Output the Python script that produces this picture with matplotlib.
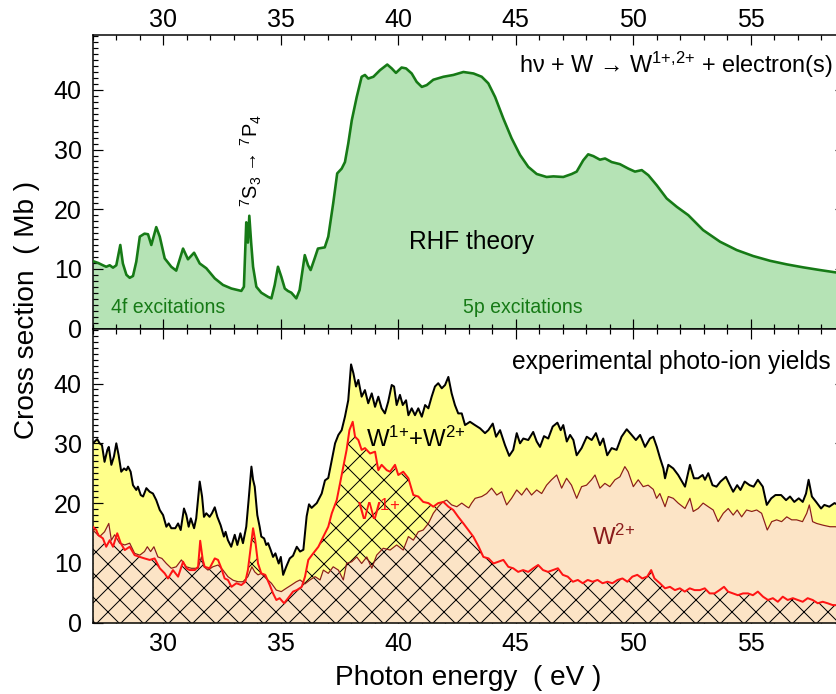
import matplotlib
matplotlib.use("Agg")
import matplotlib.pyplot as plt
from matplotlib.ticker import MultipleLocator
import numpy as np

plt.rcParams['font.family'] = ['Liberation Sans', 'DejaVu Sans']
plt.rcParams['mathtext.fontset'] = 'custom'
plt.rcParams['mathtext.rm'] = 'Liberation Sans'
plt.rcParams['hatch.linewidth'] = 1.0
plt.rcParams['hatch.color'] = 'black'

# --- RHF theory: total photoabsorption cross section (Mb) ---
theory_e = [27.0, 27.22, 27.43, 27.57, 27.72, 27.86, 28.0, 28.17, 28.28, 28.43, 28.57, 28.71,
            28.85, 29.0, 29.2, 29.35, 29.49, 29.7, 29.85, 30.06, 30.34, 30.55, 30.84, 31.05,
            31.31, 31.55, 31.83, 32.19, 32.54, 32.9, 33.32, 33.43, 33.53, 33.6, 33.66, 33.74,
            33.82, 33.96, 34.17, 34.46, 34.6, 34.74, 34.88, 35.02, 35.17, 35.3, 35.45, 35.66,
            35.8, 36.02, 36.16, 36.27, 36.44, 36.58, 36.87, 37.02, 37.23, 37.4, 37.59, 37.73,
            37.87, 38.02, 38.23, 38.44, 38.58, 38.72, 38.94, 39.22, 39.53, 39.72, 39.9, 40.14,
            40.33, 40.57, 40.78, 41.0, 41.21, 41.49, 41.92, 42.34, 42.77, 43.2, 43.55, 43.83,
            44.12, 44.47, 44.82, 45.18, 45.53, 45.89, 46.31, 46.6, 47.02, 47.38, 47.59, 47.87,
            48.08, 48.3, 48.58, 48.8, 49.08, 49.43, 49.79, 50.07, 50.36, 50.64, 51.0, 51.42,
            51.85, 52.34, 52.97, 53.69, 54.4, 55.1, 55.82, 56.53, 57.23, 57.94, 58.62, 59.0]
theory_cs = [11.3, 11.0, 10.6, 10.35, 10.6, 10.2, 10.6, 14.0, 10.9, 9.0, 8.5, 8.8,
             11.2, 15.4, 15.9, 15.8, 14.0, 17.0, 15.4, 11.75, 10.35, 9.7, 13.4, 11.6,
             12.7, 10.9, 10.1, 8.4, 7.3, 6.7, 6.3, 7.0, 17.8, 14.4, 18.9, 14.3,
             10.35, 7.0, 6.0, 5.3, 5.05, 7.3, 10.35, 8.7, 6.7, 6.3, 6.0, 5.05,
             6.45, 12.3, 10.6, 9.8, 11.75, 13.4, 13.6, 15.4, 21.0, 26.0, 26.8, 27.9,
             31.0, 34.9, 38.8, 42.2, 42.5, 41.9, 42.2, 43.3, 44.25, 43.6, 42.85, 43.75,
             43.6, 42.75, 41.35, 40.5, 40.8, 41.7, 42.2, 42.5, 43.0, 42.75, 42.2, 41.1,
             38.8, 35.2, 31.9, 29.1, 27.1, 25.9, 25.4, 25.5, 25.4, 25.9, 26.3, 28.2,
             29.2, 28.9, 28.3, 28.5, 27.9, 27.55, 26.8, 26.3, 26.55, 25.7, 24.0, 21.8,
             20.4, 19.0, 16.5, 14.55, 13.15, 12.15, 11.35, 10.75, 10.25, 9.8, 9.4, 9.2]

# --- Experimental photo-ion yields: W1+ + W2+ (sum) ---
total_e = [27.0, 27.08, 27.19, 27.29, 27.39, 27.5, 27.62, 27.68, 27.79, 27.9, 28.0, 28.1,
           28.21, 28.33, 28.43, 28.5, 28.61, 28.71, 28.85, 28.92, 29.04, 29.14, 29.28, 29.42,
           29.56, 29.7, 29.85, 29.99, 30.13, 30.23, 30.34, 30.51, 30.63, 30.74, 30.88, 30.98,
           31.08, 31.17, 31.31, 31.4, 31.55, 31.65, 31.73, 31.83, 31.97, 32.07, 32.19, 32.3,
           32.44, 32.58, 32.65, 32.75, 32.89, 33.04, 33.15, 33.28, 33.39, 33.53, 33.63, 33.75,
           33.82, 33.89, 34.0, 34.1, 34.17, 34.29, 34.38, 34.46, 34.57, 34.67, 34.77, 34.91,
           35.0, 35.1, 35.23, 35.38, 35.52, 35.68, 35.82, 35.96, 36.1, 36.2, 36.31, 36.53,
           36.74, 36.88, 37.02, 37.17, 37.31, 37.45, 37.59, 37.73, 37.87, 37.99, 38.09, 38.2,
           38.3, 38.44, 38.58, 38.72, 38.87, 39.01, 39.15, 39.29, 39.43, 39.57, 39.72, 39.82,
           39.93, 40.07, 40.19, 40.33, 40.43, 40.57, 40.71, 40.85, 41.0, 41.14, 41.28, 41.42,
           41.56, 41.7, 41.85, 41.99, 42.13, 42.27, 42.41, 42.55, 42.7, 42.84, 43.05, 43.26,
           43.48, 43.69, 43.83, 44.02, 44.16, 44.33, 44.54, 44.72, 44.89, 45.04, 45.18, 45.32,
           45.53, 45.74, 45.89, 46.03, 46.2, 46.38, 46.57, 46.77, 46.91, 47.02, 47.17, 47.31,
           47.45, 47.59, 47.8, 48.02, 48.23, 48.41, 48.58, 48.72, 48.89, 49.08, 49.29, 49.5,
           49.72, 49.93, 50.11, 50.29, 50.5, 50.71, 50.85, 51.0, 51.14, 51.28, 51.35, 51.49,
           51.7, 51.91, 52.2, 52.41, 52.58, 52.76, 52.95, 53.05, 53.19, 53.37, 53.54, 53.71,
           53.94, 54.11, 54.25, 54.42, 54.56, 54.74, 54.95, 55.12, 55.3, 55.51, 55.68, 55.87,
           56.05, 56.29, 56.5, 56.67, 56.85, 57.04, 57.21, 57.35, 57.46, 57.6, 57.78, 57.99,
           58.13, 58.34, 58.56, 59.0]
total_cs = [30.0, 30.3, 30.7, 30.0, 29.7, 26.9, 28.9, 29.4, 26.4, 27.8, 30.0, 28.0,
            25.25, 25.8, 25.5, 26.1, 25.25, 23.0, 22.2, 22.75, 21.35, 21.1, 22.5, 21.9,
            21.6, 20.5, 18.85, 18.0, 16.05, 16.6, 15.8, 15.8, 16.6, 15.5, 19.1, 18.0,
            16.05, 17.45, 15.8, 17.45, 23.6, 21.1, 17.7, 18.3, 17.7, 18.3, 19.3, 17.7,
            16.3, 14.4, 15.2, 13.8, 12.7, 14.7, 13.0, 14.95, 13.3, 16.05, 20.5, 26.1,
            23.9, 22.75, 18.0, 16.05, 14.4, 14.1, 13.0, 13.3, 12.15, 11.0, 11.6, 9.9,
            11.0, 8.0, 9.35, 10.75, 11.2, 12.7, 11.9, 12.2, 17.8, 19.8, 19.2, 20.0,
            21.6, 23.8, 24.2, 27.2, 30.0, 31.4, 32.2, 34.45, 37.2, 43.2, 41.7, 39.5,
            40.6, 37.8, 38.9, 36.7, 38.35, 36.1, 37.8, 35.85, 35.0, 36.95, 39.75, 39.5,
            36.4, 38.1, 36.4, 37.2, 34.7, 35.85, 34.7, 35.85, 34.45, 36.4, 35.85, 37.8,
            39.5, 40.05, 39.2, 39.75, 41.1, 38.35, 36.4, 35.0, 35.0, 33.05, 33.6, 33.05,
            32.5, 31.7, 32.2, 33.3, 31.1, 32.2, 29.7, 27.9, 28.9, 31.7, 30.0, 30.8,
            30.55, 31.9, 30.3, 29.4, 31.2, 30.8, 32.8, 33.45, 32.2, 33.05, 30.3, 31.4,
            30.55, 28.0, 29.2, 31.1, 30.55, 31.7, 29.7, 30.8, 28.0, 29.2, 28.9, 31.1,
            32.35, 31.4, 30.55, 31.4, 29.4, 30.8, 31.1, 29.4, 27.5, 25.8, 24.15, 26.4,
            25.8, 24.7, 22.75, 26.4, 24.15, 24.15, 24.7, 23.9, 25.0, 23.0, 22.75, 23.6,
            24.4, 23.0, 21.9, 23.0, 22.2, 23.6, 23.0, 22.75, 23.9, 22.75, 19.7, 20.8,
            21.35, 21.35, 20.5, 21.1, 20.2, 20.8, 20.2, 21.6, 23.9, 21.1, 20.2, 19.1,
            19.7, 19.4, 20.0, 19.2]

# --- W2+ yield ---
w2_e = [27.0, 27.08, 27.29, 27.5, 27.68, 27.79, 27.93, 28.14, 28.36, 28.57, 28.78, 29.0,
        29.2, 29.32, 29.46, 29.6, 29.77, 29.94, 30.13, 30.34, 30.55, 30.77, 30.98, 31.19,
        31.48, 31.62, 31.73, 31.9, 32.11, 32.33, 32.54, 32.75, 32.97, 33.18, 33.39, 33.6,
        33.77, 33.89, 34.03, 34.17, 34.38, 34.6, 34.81, 35.02, 35.23, 35.45, 35.66, 35.82,
        36.03, 36.24, 36.46, 36.67, 36.81, 37.02, 37.23, 37.45, 37.66, 37.8, 38.02, 38.23,
        38.44, 38.66, 38.87, 39.08, 39.36, 39.65, 39.93, 40.21, 40.43, 40.64, 40.85, 41.06,
        41.28, 41.49, 41.7, 41.89, 42.06, 42.27, 42.49, 42.7, 42.91, 43.0, 43.12, 43.27,
        43.55, 43.76, 43.97, 44.19, 44.4, 44.61, 44.82, 45.04, 45.25, 45.46, 45.67, 45.89,
        46.1, 46.31, 46.52, 46.74, 46.95, 47.16, 47.37, 47.59, 47.8, 48.01, 48.22, 48.37,
        48.58, 48.79, 49.0, 49.22, 49.43, 49.64, 49.78, 50.0, 50.21, 50.42, 50.63, 50.85,
        50.99, 51.13, 51.35, 51.49, 51.7, 51.91, 52.2, 52.41, 52.55, 52.76, 52.97, 53.19,
        53.4, 53.61, 53.83, 54.04, 54.25, 54.42, 54.61, 54.82, 55.04, 55.25, 55.46, 55.7,
        55.89, 56.1, 56.31, 56.53, 56.74, 56.95, 57.2, 57.38, 57.49, 57.63, 57.8, 58.08,
        58.37, 58.58, 59.0]
w2_cs = [15.5, 15.2, 14.4, 15.2, 16.6, 13.8, 14.7, 13.3, 13.0, 13.3, 11.6, 11.3,
         11.9, 12.7, 11.9, 12.7, 11.0, 10.75, 9.9, 9.1, 9.35, 10.5, 9.35, 9.1,
         9.1, 11.0, 9.35, 8.8, 9.35, 9.65, 8.8, 7.7, 7.1, 6.85, 6.85, 7.7,
         9.35, 8.5, 8.0, 8.25, 7.4, 6.6, 5.45, 5.2, 5.75, 6.3, 6.85, 7.15,
         6.5, 7.15, 7.7, 7.15, 8.8, 8.25, 9.35, 8.8, 7.15, 9.9, 10.2, 11.0,
         9.9, 11.0, 9.1, 11.3, 12.45, 12.15, 13.0, 12.15, 14.4, 13.8, 15.2, 15.5,
         16.6, 18.3, 19.4, 20.2, 20.5, 19.7, 19.4, 20.0, 19.4, 19.2, 20.0, 20.8,
         21.1, 21.6, 22.5, 21.35, 21.9, 19.7, 20.8, 22.2, 21.35, 22.5, 21.35, 22.2,
         21.6, 23.0, 23.9, 24.7, 22.5, 24.15, 23.0, 20.8, 22.75, 23.0, 23.9, 24.7,
         22.5, 23.3, 22.75, 23.9, 24.4, 26.1, 25.25, 22.75, 23.9, 22.75, 23.0, 22.3,
         20.8, 21.6, 19.4, 21.1, 20.8, 20.0, 19.1, 20.8, 18.6, 19.1, 20.0, 19.4,
         18.85, 16.9, 18.3, 19.1, 18.0, 18.85, 17.7, 18.85, 18.6, 18.85, 18.3, 15.5,
         16.9, 17.2, 16.9, 17.7, 17.2, 17.2, 16.9, 18.3, 19.7, 16.9, 16.6, 16.3,
         16.05, 16.05, 15.9]

# --- W1+ yield ---
w1_e = [27.0, 27.15, 27.22, 27.43, 27.57, 27.72, 27.86, 28.04, 28.19, 28.36, 28.57, 28.78,
        29.0, 29.2, 29.42, 29.63, 29.85, 30.06, 30.2, 30.41, 30.63, 30.84, 30.98, 31.12,
        31.34, 31.48, 31.57, 31.68, 31.76, 31.97, 32.19, 32.33, 32.47, 32.61, 32.75, 32.9,
        33.11, 33.32, 33.49, 33.6, 33.72, 33.82, 33.91, 34.03, 34.17, 34.34, 34.53, 34.67,
        34.81, 34.95, 35.14, 35.31, 35.52, 35.68, 35.89, 36.03, 36.17, 36.38, 36.6, 36.81,
        37.02, 37.17, 37.38, 37.52, 37.66, 37.8, 37.92, 38.06, 38.16, 38.3, 38.44, 38.58,
        38.8, 39.01, 39.15, 39.29, 39.51, 39.65, 39.86, 40.0, 40.21, 40.43, 40.64, 40.85,
        41.06, 41.28, 41.49, 41.7, 41.92, 42.13, 42.34, 42.55, 42.77, 42.98, 43.19, 43.41,
        43.62, 43.84, 44.05, 44.26, 44.47, 44.68, 44.89, 45.1, 45.31, 45.53, 45.74, 45.95,
        46.16, 46.37, 46.58, 46.79, 47.0, 47.21, 47.43, 47.64, 47.85, 48.06, 48.27, 48.48,
        48.69, 48.9, 49.11, 49.33, 49.54, 49.75, 49.96, 50.17, 50.38, 50.59, 50.76, 50.9,
        51.13, 51.35, 51.56, 51.77, 51.98, 52.19, 52.4, 52.61, 52.83, 53.04, 53.25, 53.46,
        53.67, 53.86, 54.03, 54.24, 54.45, 54.67, 54.88, 55.09, 55.3, 55.52, 55.73, 55.94,
        56.15, 56.36, 56.57, 56.79, 57.0, 57.21, 57.42, 57.63, 57.85, 58.06, 58.27, 58.48,
        59.0]
w1_cs = [16.05, 15.5, 14.7, 14.1, 12.7, 13.8, 12.7, 14.95, 13.3, 12.15, 12.7, 11.3,
         11.0, 10.75, 10.5, 10.75, 9.1, 8.25, 7.4, 8.8, 7.7, 10.2, 9.1, 8.8,
         8.8, 9.35, 13.7, 10.5, 9.35, 9.1, 10.75, 10.5, 9.1, 7.4, 7.15, 6.0,
         6.6, 6.3, 6.85, 8.8, 12.7, 15.8, 13.8, 9.9, 8.25, 8.0, 6.3, 4.9,
         3.8, 4.1, 3.25, 4.1, 5.2, 5.45, 6.0, 7.7, 10.5, 11.6, 12.7, 14.4,
         16.05, 18.3, 20.5, 23.3, 26.1, 28.9, 32.2, 33.6, 31.1, 30.55, 28.9, 29.2,
         28.3, 28.6, 25.5, 26.4, 25.5, 25.25, 26.4, 24.7, 25.25, 24.15, 21.35, 21.1,
         20.2, 20.0, 19.4, 20.0, 20.2, 19.4, 18.85, 17.7, 16.6, 15.5, 14.4, 12.8,
         11.0, 10.75, 9.9, 10.2, 10.5, 9.35, 9.1, 8.5, 8.8, 8.5, 9.1, 9.65,
         8.8, 8.5, 8.8, 9.1, 8.0, 7.7, 6.85, 7.15, 6.6, 7.15, 6.85, 7.15,
         6.6, 6.85, 6.6, 7.15, 7.4, 6.85, 7.7, 8.0, 7.4, 7.7, 8.8, 7.4,
         6.6, 5.75, 6.0, 5.45, 5.75, 5.2, 5.75, 5.45, 5.45, 5.75, 4.9, 4.9,
         5.45, 6.0, 5.2, 4.9, 4.6, 4.9, 4.9, 4.6, 5.2, 4.35, 3.8, 4.1,
         3.5, 4.35, 3.8, 4.1, 3.8, 3.5, 4.1, 3.8, 3.25, 3.5, 3.25, 2.95,
         2.9]

GREEN_LINE = '#167a16'
GREEN_FILL = '#b5e3b5'
YELLOW = '#ffff8a'
PEACH = '#fce4c6'
DARK_RED = '#8b1c1c'
RED = '#ff1414'

W, H, DPI = 836, 694, 72
fig = plt.figure(figsize=(W / DPI, H / DPI), dpi=DPI)

x0, x1 = 92.8 / W, 844.8 / W
ax_top = fig.add_axes([x0, 1 - 328.5 / H, x1 - x0, (328.5 - 35) / H])
ax_bot = fig.add_axes([x0, 1 - 622.7 / H, x1 - x0, (622.7 - 328.5) / H])

TICK_FS = 25
for ax in (ax_top, ax_bot):
    ax.set_xlim(27, 59)
    ax.set_ylim(0, 49.2)
    ax.xaxis.set_major_locator(MultipleLocator(5))
    ax.xaxis.set_minor_locator(MultipleLocator(1))
    ax.yaxis.set_major_locator(MultipleLocator(10))
    ax.yaxis.set_minor_locator(MultipleLocator(1))
    ax.tick_params(which='both', direction='in', top=True, right=True,
                   bottom=True, left=True, width=1.2, labelsize=TICK_FS)
    ax.tick_params(which='major', length=10)
    ax.tick_params(which='minor', length=5)
    ax.tick_params(axis='y', pad=11)
    for s in ax.spines.values():
        s.set_linewidth(1.5)

ax_top.tick_params(axis='x', labeltop=True, labelbottom=False, pad=3)
ax_bot.tick_params(axis='x', labeltop=False, labelbottom=True, pad=9)

# Theory panel
ax_top.fill_between(theory_e, 0, theory_cs, color=GREEN_FILL, linewidth=0, zorder=1)
ax_top.plot(theory_e, theory_cs, color=GREEN_LINE, lw=2.6, zorder=3)

ax_top.text(58.5, 42.8, r'hν + W → $\mathregular{W^{1{+}{,}2{+}}}$ + electron(s)',
            ha='right', va='baseline', fontsize=23.5)
ax_top.text(43.1, 14.5, 'RHF theory', ha='center', va='center', fontsize=24.5)
ax_top.text(27.76, 2.6, '4f excitations', color=GREEN_LINE, ha='left',
            va='baseline', fontsize=19.5)
ax_top.text(42.74, 2.6, '5p excitations', color=GREEN_LINE, ha='left',
            va='baseline', fontsize=19.5)
ax_top.text(33.73, 20.4, r'$\mathregular{{}^{7}S_{3}}$ → $\mathregular{{}^{7}P_{4}}$',
            rotation=90, ha='center', va='bottom', fontsize=20)

# Experimental panel
ax_bot.fill_between(total_e, 0, total_cs, color=YELLOW, linewidth=0, zorder=1)
ax_bot.fill_between(w2_e, 0, w2_cs, color=PEACH, linewidth=0, zorder=2)
ax_bot.fill_between(w1_e, 0, w1_cs, facecolor='none', edgecolor='black',
                    hatch='x', linewidth=0, zorder=3)
ax_bot.plot(w2_e, w2_cs, color=DARK_RED, lw=1.2, zorder=4)
ax_bot.plot(total_e, total_cs, color='black', lw=2.0, zorder=5)
ax_bot.plot(w1_e, w1_cs, color=RED, lw=2.0, zorder=6)

ax_bot.text(58.4, 42.4, 'experimental photo-ion yields', ha='right',
            va='baseline', fontsize=24.5)
ax_bot.text(38.63, 29.4, r'$\mathregular{W^{1{+}}}$+$\mathregular{W^{2{+}}}$',
            ha='left', va='baseline', fontsize=24, zorder=7)
ax_bot.text(38.25, 17.2, r'$\mathregular{W^{1{+}}}$', color=RED, ha='left',
            va='baseline', fontsize=24, zorder=7)
ax_bot.text(48.23, 13.0, r'$\mathregular{W^{2{+}}}$', color=DARK_RED, ha='left',
            va='baseline', fontsize=24, zorder=7)

fig.text(27 / W, 1 - 310 / H, 'Cross section  ( Mb )', rotation=90,
         ha='center', va='center', fontsize=28)
fig.text(468 / W, 1 - 685 / H, 'Photon energy  ( eV )', ha='center',
         va='baseline', fontsize=28)

fig.savefig('out.png', dpi=DPI)
